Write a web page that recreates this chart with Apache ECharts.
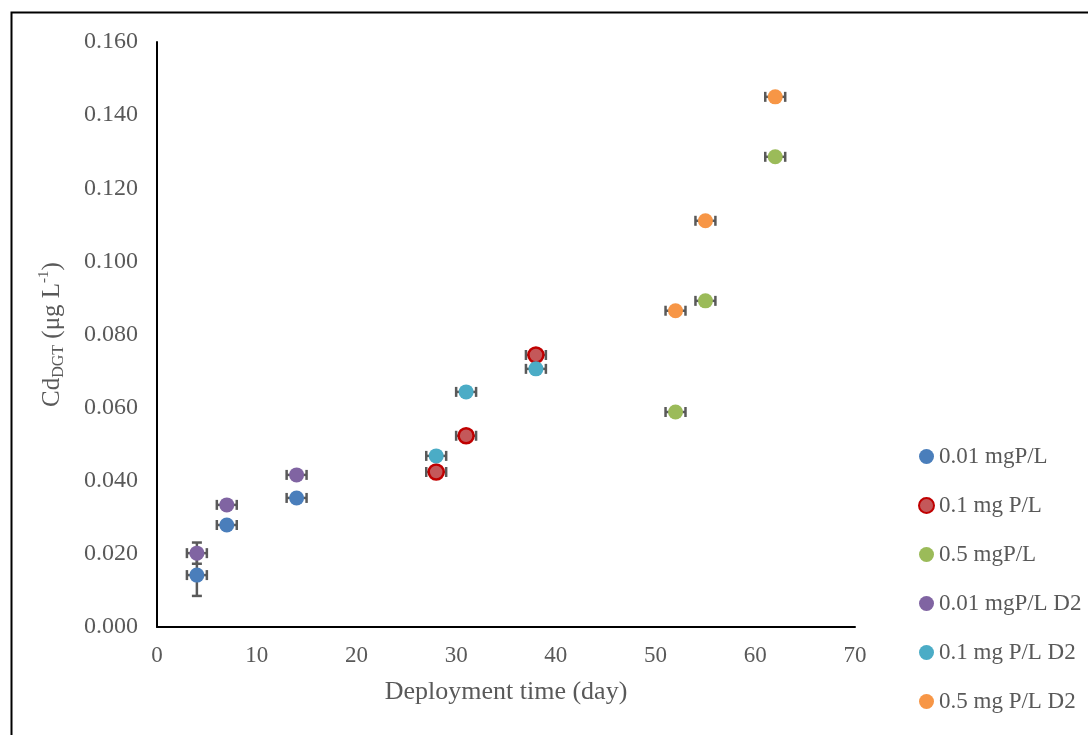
<!DOCTYPE html>
<html>
<head>
<meta charset="utf-8">
<script src="https://cdn.jsdelivr.net/npm/echarts@6/dist/echarts.min.js"></script>
<style>
html,body{margin:0;padding:0;background:#fff;}
#chart{width:1088px;height:735px;}
</style>
</head>
<body>
<div id="chart"></div>
<script>
// Data
const seriesNames = ['0.01 mgP/L', '0.1 mg P/L', '0.5 mgP/L', '0.01 mgP/L D2', '0.1 mg P/L D2', '0.5 mg P/L D2'];
const days_001 = [4, 7, 14];
const cd_001 = [0.0142, 0.0279, 0.0353];
const err_001 = [0.0057, 0.0010, 0.0010];
const days_01 = [28, 31, 38];
const cd_01 = [0.0424, 0.0523, 0.0744];
const err_01 = [0.0008, 0.0008, 0.0008];
const days_05 = [52, 55, 62];
const cd_05 = [0.0588, 0.0892, 0.1286];
const err_05 = [0.0008, 0.0008, 0.0008];
const days_001D2 = [4, 7, 14];
const cd_001D2 = [0.0202, 0.0334, 0.0416];
const err_001D2 = [0.0029, 0.0010, 0.0010];
const days_01D2 = [28, 31, 38];
const cd_01D2 = [0.0468, 0.0643, 0.0706];
const err_01D2 = [0.0008, 0.0008, 0.0008];
const days_05D2 = [52, 55, 62];
const cd_05D2 = [0.0865, 0.1111, 0.1450];
const err_05D2 = [0.0008, 0.0008, 0.0008];
const dayErr = 1;
const xTicks = [0, 10, 20, 30, 40, 50, 60, 70];
const yTicks = [0, 0.02, 0.04, 0.06, 0.08, 0.10, 0.12, 0.14, 0.16];

const groups = [
  {x: days_001, y: cd_001, e: err_001, color: '#4a7ebb', border: '#4a7ebb'},
  {x: days_01, y: cd_01, e: err_01, color: '#c4585a', border: '#c00000'},
  {x: days_05, y: cd_05, e: err_05, color: '#9bbb59', border: '#9bbb59'},
  {x: days_001D2, y: cd_001D2, e: err_001D2, color: '#8064a2', border: '#8064a2'},
  {x: days_01D2, y: cd_01D2, e: err_01D2, color: '#4bacc6', border: '#4bacc6'},
  {x: days_05D2, y: cd_05D2, e: err_05D2, color: '#f79646', border: '#f79646'}
];

const font = 'Liberation Serif, Times New Roman, serif';
const series = [];
groups.forEach((g, i) => {
  const pts = g.x.map((d, k) => [d, g.y[k], g.e[k]]);
  series.push({
    type: 'custom',
    name: seriesNames[i] + '_err',
    data: pts,
    z: 1,
    silent: true,
    renderItem: function (params, api) {
      const x = api.value(0), y = api.value(1), e = api.value(2);
      const c = api.coord([x, y]);
      const l = api.coord([x - dayErr, y]);
      const r = api.coord([x + dayErr, y]);
      const t = api.coord([x, y + e]);
      const b = api.coord([x, y - e]);
      const cap = 5;
      const st = {stroke: '#595959', lineWidth: 2.5, fill: null};
      return {
        type: 'group',
        children: [
          {type: 'line', shape: {x1: l[0], y1: c[1], x2: r[0], y2: c[1]}, style: st},
          {type: 'line', shape: {x1: l[0], y1: c[1] - cap, x2: l[0], y2: c[1] + cap}, style: st},
          {type: 'line', shape: {x1: r[0], y1: c[1] - cap, x2: r[0], y2: c[1] + cap}, style: st},
          {type: 'line', shape: {x1: c[0], y1: t[1], x2: c[0], y2: b[1]}, style: st},
          {type: 'line', shape: {x1: c[0] - cap, y1: t[1], x2: c[0] + cap, y2: t[1]}, style: st},
          {type: 'line', shape: {x1: c[0] - cap, y1: b[1], x2: c[0] + cap, y2: b[1]}, style: st}
        ]
      };
    }
  });
  series.push({
    type: 'scatter',
    name: seriesNames[i],
    data: pts.map(p => [p[0], p[1]]),
    symbol: 'circle',
    symbolSize: 15,
    z: 3,
    itemStyle: {color: g.color, borderColor: g.border, borderWidth: i === 1 ? 2.5 : 0, opacity: 1}
  });
});

const chart = echarts.init(document.getElementById('chart'), null, {renderer: 'canvas'});
chart.setOption({
  animation: false,
  backgroundColor: '#fff',
  graphic: [{
    type: 'rect', left: 9, top: 10, z: 100, silent: true,
    shape: {width: 1100, height: 800},
    style: {fill: null, stroke: '#000', lineWidth: 2}
  }],
  grid: {left: 157, right: 233, top: 42, bottom: 108},
  legend: {
    orient: 'vertical',
    left: 913,
    top: 440,
    itemGap: 26,
    itemWidth: 15,
    itemHeight: 15,
    icon: 'circle',
    data: seriesNames,
    textStyle: {fontFamily: font, fontSize: 23, color: '#595959'}
  },
  xAxis: {
    type: 'value',
    min: 0, max: 70, interval: 10,
    name: 'Deployment time (day)',
    nameLocation: 'middle',
    nameGap: 52,
    nameTextStyle: {fontFamily: font, fontSize: 26, color: '#595959'},
    axisLine: {show: true, lineStyle: {color: '#000', width: 2}},
    axisTick: {show: false},
    splitLine: {show: false},
    axisLabel: {fontFamily: font, fontSize: 23, color: '#595959', margin: 17,
      formatter: v => xTicks.includes(v) ? String(v) : ''}
  },
  yAxis: {
    type: 'value',
    min: 0, max: 0.16, interval: 0.02,
    name: '{n|Cd}{s|DGT}{n| (μg L}{p|-1}{n|)}',
    nameLocation: 'middle',
    nameGap: 90,
    nameRotate: 90,
    nameTextStyle: {
      fontFamily: font, fontSize: 25, color: '#595959',
      rich: {
        n: {fontFamily: font, fontSize: 25, color: '#595959', lineHeight: 30, verticalAlign: 'middle'},
        s: {fontFamily: font, fontSize: 16, color: '#595959', padding: [12, 0, 0, 0], verticalAlign: 'bottom'},
        p: {fontFamily: font, fontSize: 15, color: '#595959', padding: [0, 0, 12, 0], verticalAlign: 'top'}
      }
    },
    axisLine: {show: true, lineStyle: {color: '#000', width: 2}},
    axisTick: {show: false},
    splitLine: {show: false},
    axisLabel: {fontFamily: font, fontSize: 24, color: '#595959', margin: 19,
      formatter: v => v.toFixed(3)}
  },
  series: series
});
</script>
</body>
</html>
